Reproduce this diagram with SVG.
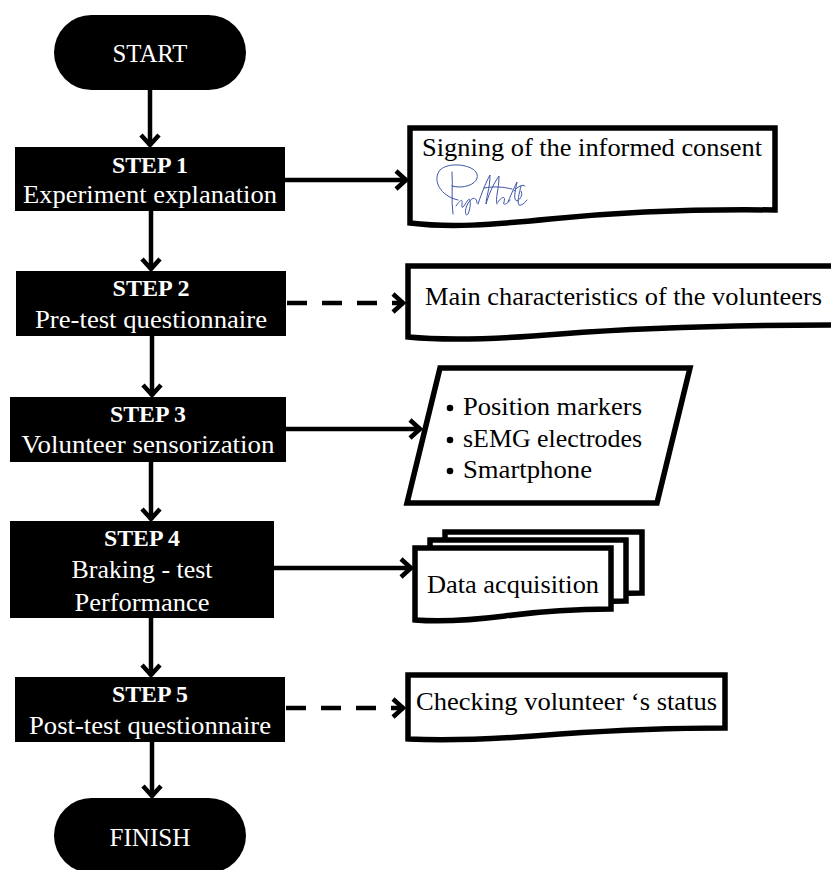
<svg xmlns="http://www.w3.org/2000/svg" width="831" height="870" viewBox="0 0 831 870" font-family="'Liberation Serif', 'Times New Roman', serif" font-size="26">
<style>
  .w { fill: #ffffff; }
  .k { fill: #000000; }
  .term { fill: #000000; }
  .step { fill: #000000; }
  .doc { fill: #ffffff; stroke: #000000; stroke-width: 5.5; stroke-linejoin: miter; }
  .conn { stroke: #000000; stroke-width: 4.5; fill: none; marker-end: url(#chev); }
  .dash { stroke-dasharray: 20 15; }
  .sig { fill: none; stroke: #3f56a6; stroke-width: 1; stroke-linecap: round; }
</style>
<defs>
  <marker id="chev" markerUnits="userSpaceOnUse" markerWidth="22" markerHeight="24" viewBox="0 0 22 24" refX="16" refY="12" orient="auto">
    <path d="M5,3 L15,12 L5,21" fill="none" stroke="#000000" stroke-width="4.5" stroke-dasharray="none"/>
  </marker>
</defs>

<g id="connectors">
  <line class="conn" x1="150" y1="90" x2="150" y2="146"/>
  <line class="conn" x1="151" y1="211" x2="151" y2="270"/>
  <line class="conn" x1="152" y1="336" x2="152" y2="396"/>
  <line class="conn" x1="151" y1="462" x2="151" y2="520"/>
  <line class="conn" x1="151" y1="618" x2="151" y2="676"/>
  <line class="conn" x1="152" y1="742" x2="152" y2="797"/>
  <line class="conn" x1="285" y1="180" x2="407" y2="180"/>
  <line class="conn dash" x1="287" y1="303" x2="404" y2="303"/>
  <line class="conn" x1="286" y1="429" x2="421" y2="429"/>
  <line class="conn" x1="274" y1="568" x2="412" y2="568"/>
  <line class="conn dash" x1="286" y1="708" x2="404" y2="708"/>
</g>

<g id="start">
  <rect class="term" x="54" y="15" width="192" height="75" rx="37.5"/>
  <text class="w" x="150" y="62" text-anchor="middle" textLength="75" lengthAdjust="spacingAndGlyphs">START</text>
</g>

<g id="step1">
  <rect class="step" x="15" y="147" width="270" height="64"/>
  <text class="w" x="150" y="173" font-size="24" font-weight="bold" text-anchor="middle" textLength="76" lengthAdjust="spacingAndGlyphs">STEP 1</text>
  <text class="w" x="150" y="203" text-anchor="middle" textLength="254" lengthAdjust="spacingAndGlyphs">Experiment explanation</text>
</g>

<g id="step2">
  <rect class="step" x="16" y="271" width="270" height="65"/>
  <text class="w" x="151" y="296" font-size="24" font-weight="bold" text-anchor="middle" textLength="77" lengthAdjust="spacingAndGlyphs">STEP 2</text>
  <text class="w" x="151" y="328" text-anchor="middle" textLength="232" lengthAdjust="spacingAndGlyphs">Pre-test questionnaire</text>
</g>

<g id="step3">
  <rect class="step" x="10" y="397" width="276" height="65"/>
  <text class="w" x="148" y="422" font-size="24" font-weight="bold" text-anchor="middle" textLength="76" lengthAdjust="spacingAndGlyphs">STEP 3</text>
  <text class="w" x="148" y="453" text-anchor="middle" textLength="253" lengthAdjust="spacingAndGlyphs">Volunteer sensorization</text>
</g>

<g id="step4">
  <rect class="step" x="10" y="521" width="264" height="97"/>
  <text class="w" x="142" y="546" font-size="24" font-weight="bold" text-anchor="middle" textLength="76" lengthAdjust="spacingAndGlyphs">STEP 4</text>
  <text class="w" x="142" y="578" text-anchor="middle" textLength="141" lengthAdjust="spacingAndGlyphs">Braking - test</text>
  <text class="w" x="142" y="611" text-anchor="middle" textLength="135" lengthAdjust="spacingAndGlyphs">Performance</text>
</g>

<g id="step5">
  <rect class="step" x="15" y="677" width="270" height="65"/>
  <text class="w" x="150" y="702" font-size="24" font-weight="bold" text-anchor="middle" textLength="76" lengthAdjust="spacingAndGlyphs">STEP 5</text>
  <text class="w" x="150" y="734" text-anchor="middle" textLength="242" lengthAdjust="spacingAndGlyphs">Post-test questionnaire</text>
</g>

<g id="finish">
  <rect class="term" x="54" y="798" width="192" height="75" rx="37.5"/>
  <text class="w" x="150" y="846" text-anchor="middle" textLength="81" lengthAdjust="spacingAndGlyphs">FINISH</text>
</g>

<g id="consent">
  <path class="doc" d="M410,128 H775 V210 C700,209 620,212 550,219 C490,225 450,228 410,223 Z"/>
  <text class="k" x="422" y="156" textLength="340" lengthAdjust="spacingAndGlyphs">Signing of the informed consent</text>
  <g class="sig">
    <path d="M458,200 C440,196 432,180 440,170 C448,162 470,164 476,172 C482,182 466,190 452,186"/>
    <path d="M452,172 C453,186 451,200 453,214"/>
    <path d="M456,206 C460,200 463,198 462,204 C461,212 465,204 468,200 C471,196 471,208 468,214 C465,218 464,208 469,202 C473,196 477,198 477,203"/>
    <path d="M478,204 C482,192 487,180 490,175 C490,188 486,198 486,204 C490,190 496,180 499,176 C499,190 495,198 497,204"/>
    <path d="M498,202 C502,196 506,196 504,202 C502,206 508,204 510,200"/>
    <path d="M508,202 C512,192 516,184 517,182 C515,192 513,200 517,201 C521,199 523,194 521,191"/>
    <path d="M514,191 C518,186 523,184 525,186"/>
    <path d="M521,186 C519,194 517,202 519,205 C521,206 525,203 527,200"/>
    <path d="M484,188 C494,186 504,187 512,189"/>
  </g>
</g>

<g id="characteristics">
  <path class="doc" d="M408,266 H845 V325 C740,325 640,328 560,334 C500,339 450,341 408,337 Z"/>
  <text class="k" x="425" y="305" textLength="397" lengthAdjust="spacingAndGlyphs">Main characteristics of the volunteers</text>
</g>

<g id="sensors">
  <polygon class="doc" points="440,368 690,368 657,503 407,503"/>
  <circle cx="450" cy="408" r="3.3" class="k"/>
  <circle cx="450" cy="440" r="3.3" class="k"/>
  <circle cx="450" cy="471" r="3.3" class="k"/>
  <text class="k" x="463" y="415" textLength="179" lengthAdjust="spacingAndGlyphs">Position markers</text>
  <text class="k" x="463" y="447" textLength="179" lengthAdjust="spacingAndGlyphs">sEMG electrodes</text>
  <text class="k" x="463" y="478" textLength="129" lengthAdjust="spacingAndGlyphs">Smartphone</text>
</g>

<g id="data">
  <path class="doc" d="M445,532 H642 V593 C600,593 565,596 535,600 C495,605 470,606 445,603 Z"/>
  <path class="doc" d="M430,540 H626 V601 C585,601 550,604 520,608 C480,613 455,614 430,611 Z"/>
  <path class="doc" d="M415,548 H611 V609 C570,609 535,612 505,616 C465,621 440,622 415,620 Z"/>
  <text class="k" x="427" y="593" textLength="172" lengthAdjust="spacingAndGlyphs">Data acquisition</text>
</g>

<g id="status">
  <path class="doc" d="M408,675 H725 V728 C680,728 620,730 560,734 C500,739 450,741 408,739 Z"/>
  <text class="k" x="416" y="710" textLength="301" lengthAdjust="spacingAndGlyphs">Checking volunteer ‘s status</text>
</g>
</svg>
